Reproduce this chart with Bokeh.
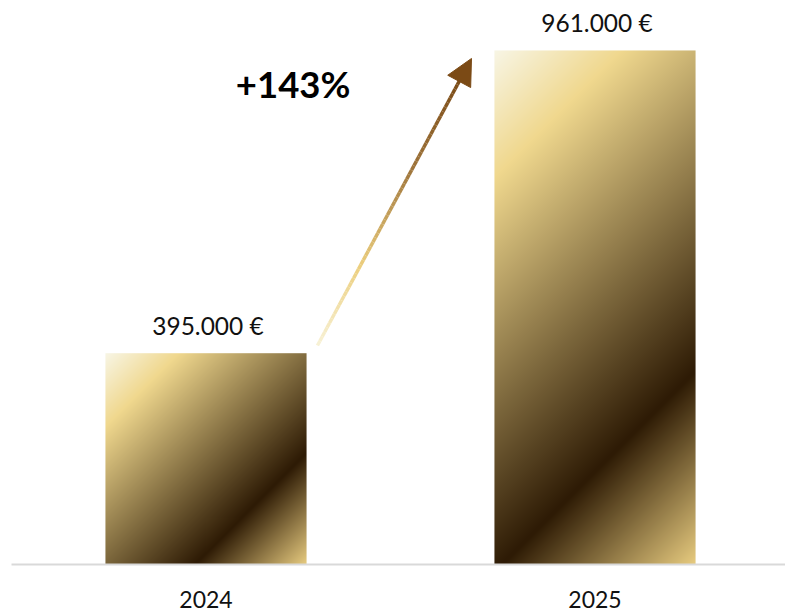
import numpy as np
from bokeh.plotting import figure
from bokeh.models import Range1d, FixedTicker, Arrow, NormalHead, Label
from bokeh.core.properties import value
from bokeh.embed import file_html
from bokeh.resources import INLINE

# ---- data ----
years = ["2024", "2025"]
values = [395000, 961000]
value_labels = ["395.000 €", "961.000 €"]
growth = (values[1] - values[0]) / values[0] * 100
growth_label = "+%d%%" % round(growth)

# ---- layout constants ----
W, H = 785, 612
left_border = 11
bottom_border = 48
frame_w = W - left_border
frame_h = H - bottom_border
px_per_unit = 389.0
x_start = -0.5
x_end = frame_w / px_per_unit - 0.5
y_end = 1054400.0
px_per_val = frame_h / y_end
bar_width = 0.517
centers = list(range(len(years)))
lefts = [c - bar_width / 2 for c in centers]

p = figure(width=W, height=H, output_backend="svg", toolbar_location=None,
           x_range=Range1d(x_start, x_end), y_range=Range1d(0, y_end),
           y_axis_location=None, min_border_left=left_border, min_border_right=0,
           min_border_top=0, min_border_bottom=bottom_border,
           background_fill_color="white", border_fill_color="white")
p.outline_line_color = None
p.grid.visible = False

# ---- gradient bar images ----
stops_t = [0.0, 0.18, 0.73, 1.0]
stops_c = np.array([[248, 246, 230], [240, 216, 142], [46, 27, 5], [232, 204, 128]], dtype=float)

def gradient_image(w_px, h_px):
    j = np.arange(w_px) + 0.5
    i = np.arange(h_px) + 0.5
    jj, ii = np.meshgrid(j, i)
    y_top = h_px - ii  # rows from bottom -> distance from top
    t = (jj + y_top) / (w_px + h_px)
    img = np.empty((h_px, w_px), dtype=np.uint32)
    view = img.view(dtype=np.uint8).reshape((h_px, w_px, 4))
    for k in range(3):
        view[:, :, k] = np.interp(t, stops_t, stops_c[:, k]).astype(np.uint8)
    view[:, :, 3] = 255
    return img

images = []
for v in values:
    w_px = int(round(bar_width * px_per_unit))
    h_px = int(round(v * px_per_val))
    images.append(gradient_image(w_px, h_px))

p.vbar(x=centers, top=values, width=bar_width, fill_alpha=0, line_alpha=0)
p.image_rgba(image=images, x=lefts, y=[0] * len(values), dw=[bar_width] * len(values), dh=values)

# ---- value labels ----
p.text(x=centers, y=values, text=value_labels, y_offset=-28, x_offset=2,
       text_align="center", text_baseline="middle",
       text_font=value("Lato"), text_font_size="24.5px", text_color="#111111")

# ---- growth arrow ----
ax0, ay0 = 0.2866, 409400.0
ax1, ay1 = 0.6825, 946000.0
n = 60
ts = np.linspace(0, 0.94, n + 1)
xs = ax0 + (ax1 - ax0) * ts
ys = ay0 + (ay1 - ay0) * ts
a_t = [0.0, 0.3, 0.65, 1.0]
a_c = np.array([[248, 242, 215], [236, 206, 125], [160, 118, 60], [122, 74, 22]], dtype=float)
mids = (ts[:-1] + ts[1:]) / 2 / 0.94
cols = ["#%02x%02x%02x" % tuple(int(np.interp(m, a_t, a_c[:, k])) for k in range(3)) for m in mids]
p.segment(x0=xs[:-1], y0=ys[:-1], x1=xs[1:], y1=ys[1:], line_color=cols, line_width=3.5)
p.add_layout(Arrow(end=NormalHead(size=26, fill_color="#7b4a15", line_color="#7b4a15", line_width=1),
                   x_start=ax0 + (ax1 - ax0) * 0.9, y_start=ay0 + (ay1 - ay0) * 0.9,
                   x_end=ax1, y_end=ay1, line_alpha=0))

p.add_layout(Label(x=0.224, y=899000, text=growth_label, text_align="center", text_baseline="middle",
                   text_font="Lato", text_font_size="36.5px", text_font_style="bold", text_color="#000000"))

# ---- axis ----
ax = p.xaxis[0]
ax.ticker = FixedTicker(ticks=centers)
ax.major_label_overrides = {c: y for c, y in zip(centers, years)}
ax.axis_line_color = "#d9d9d9"
ax.axis_line_width = 2
ax.major_tick_line_color = None
ax.minor_tick_line_color = None
ax.major_label_text_font = "Lato"
ax.major_label_text_font_size = "23px"
ax.major_label_text_color = "#111111"
ax.major_label_standoff = 20

open("out.html", "w").write(file_html(p, INLINE))
